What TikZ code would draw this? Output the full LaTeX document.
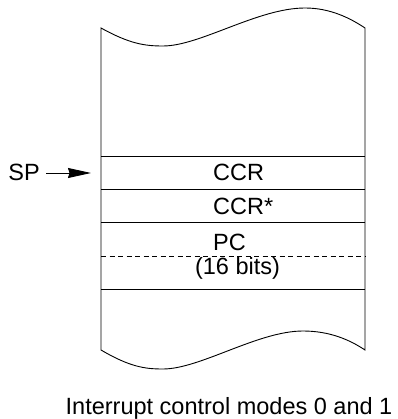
\documentclass[tikz,border=0pt]{standalone}
\usepackage{fontspec}
\setmainfont{Liberation Sans}
\usetikzlibrary{arrows.meta}
\begin{document}
\begin{tikzpicture}[x=1pt,y=-1pt,
  line/.style={line width=0.9pt},
  lbl/.style={font=\fontsize{23.5}{28}\selectfont, inner sep=0pt},
  ptr/.style={line width=0.9pt, -{Stealth[length=23pt,width=10pt,inset=1.5pt]}}]
\useasboundingbox (0,0) rectangle (397,419);
% stack outline with torn edges
\draw[line] (101,28) .. controls (130,44) and (145,46) .. (163,46)
  .. controls (200,46) and (258,8) .. (305,8)
  .. controls (330,8) and (350,18) .. (365,28)
  -- (365,350)
  .. controls (350,340) and (330,331) .. (303,331)
  .. controls (258,331) and (200,369) .. (163,369)
  .. controls (145,369) and (130,367) .. (101,350) -- cycle;
% rows
\draw[line] (101,156) -- (365,156);
\draw[line] (101,189.3) -- (365,189.3);
\draw[line] (101,222.7) -- (365,222.7);
\draw[line, dash pattern=on 5pt off 3.5pt] (101,256) -- (365,256);
\draw[line] (101,289.3) -- (365,289.3);
% texts
\node[lbl, anchor=west] (ccr) at (213,172.8) {CCR};
\node[lbl, anchor=west] (ccrs) at (213,206) {CCR*};
\node[lbl, anchor=west] (pc) at (213,242.5) {PC};
\node[lbl] (bits) at (237.5,268.5) {(16 bits)};
\node[lbl] (sp) at (24,172.8) {SP};
\coordinate (spstart) at (46,173);
\coordinate (sptip) at (91,173);
\draw[ptr] (spstart) -- (sptip);
\node[lbl, anchor=base] (cap) at (229,414.5) {Interrupt control modes 0 and 1};
\end{tikzpicture}
\end{document}
